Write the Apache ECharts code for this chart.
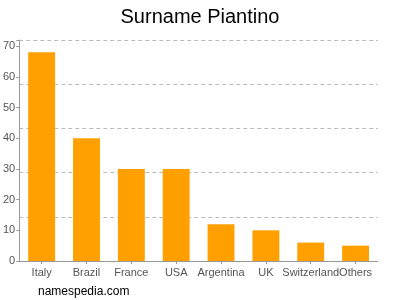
<!DOCTYPE html>
<html><head><meta charset="utf-8">
<script src="https://cdn.jsdelivr.net/npm/echarts@6/dist/echarts.min.js"></script>
<style>html,body{margin:0;padding:0;background:#fff}#c{width:400px;height:300px}</style>
</head><body><div id="c"></div>
<script>
var categories = ["Italy","Brazil","France","USA","Argentina","UK","Switzerland","Others"];
var values = [68,40,30,30,12,10,6,5];
var yTicks = [0,10,20,30,40,50,60,70];
var chart = echarts.init(document.getElementById('c'));
chart.setOption({
  animation:false,
  title:{text:'Surname Piantino',left:'center',top:2,textStyle:{fontFamily:'Liberation Sans',fontSize:20,fontWeight:'normal',color:'#000'}},
  graphic:[{type:'text',left:38,top:286,style:{text:'namespedia.com',fontFamily:'Liberation Sans',fontSize:12,fill:'#000'}}],
  grid:{left:18,right:22,top:40,bottom:39},
  xAxis:{type:'category',data:categories,
    axisLine:{lineStyle:{color:'#999'}},
    axisTick:{show:true,alignWithLabel:true,length:3,lineStyle:{color:'#999'}},
    axisLabel:{color:'#555',fontFamily:'Liberation Sans',fontSize:11,interval:0,margin:6}},
  yAxis:[{type:'value',min:0,max:72,interval:10,
    axisLine:{show:true,lineStyle:{color:'#999'}},
    axisTick:{show:true,length:3,lineStyle:{color:'#999'}},
    splitLine:{show:false},
    axisLabel:{color:'#555',fontFamily:'Liberation Sans',fontSize:11,margin:4,
      formatter:function(v){return yTicks.indexOf(v)>=0?v:'';}}},
    {type:'value',min:0,max:72,interval:14.4,position:'left',
    axisLine:{show:false},axisTick:{show:false},axisLabel:{show:false},
    splitLine:{show:true,lineStyle:{color:'#bbb',type:[4,3]}}}],
  series:[{type:'bar',data:values,barWidth:'60%',yAxisIndex:0,
    itemStyle:{color:'#ffa000'}}]
});
</script></body></html>
